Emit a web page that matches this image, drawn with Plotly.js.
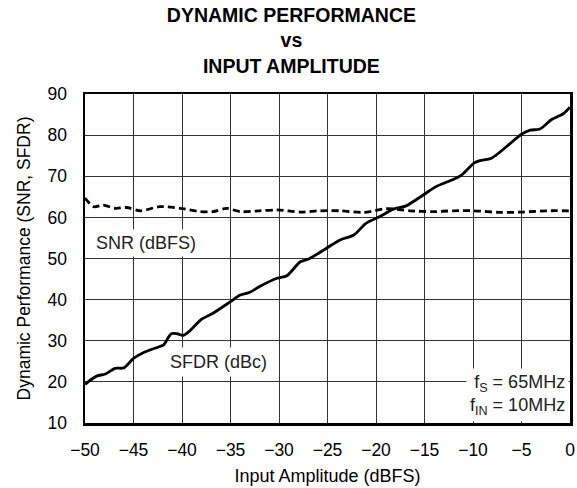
<!DOCTYPE html>
<html>
<head>
<meta charset="utf-8">
<script src="https://cdn.plot.ly/plotly-3.0.1.min.js"></script>
<style>html,body{margin:0;padding:0;background:#fff;}#chart{width:577px;height:488px;}</style>
</head>
<body>
<div id="chart"></div>
<script>
// SFDR (dBc) vs input amplitude
const sfdrX = [-50, -48.8, -47.9, -46.9, -46.0, -45.0, -44.0, -42.3, -41.9, -41.1, -40.5, -39.9, -39.3, -38.0, -36.8, -35.0, -34.0, -33.0, -32.0, -30.2, -29.2, -27.8, -27.0, -25.1, -23.7, -22.3, -21.0, -19.6, -18.2, -16.9, -15.1, -13.8, -11.3, -9.9, -9.3, -8.1, -6.5, -5.0, -4.1, -3.1, -1.9, -0.7, 0];
const sfdrY = [19.4, 21.4, 21.9, 23.3, 23.4, 25.7, 27.1, 28.6, 29.0, 31.7, 31.7, 31.3, 32.2, 35.2, 36.7, 39.5, 41.1, 41.8, 43.2, 45.2, 45.8, 49.2, 49.8, 52.5, 54.5, 55.7, 58.6, 60.2, 62.0, 62.8, 65.5, 67.5, 70.1, 73.2, 73.8, 74.4, 77.3, 80.2, 81.2, 81.5, 83.8, 85.2, 86.8];
// SNR (dBFS) vs input amplitude
const snrX = [-50, -49.1, -48.1, -46.9, -45.7, -44.3, -42.3, -40.2, -38.1, -36.8, -35.4, -34.0, -32.0, -30.2, -27.8, -25.8, -23.7, -21.3, -18.9, -16.5, -14.1, -12.0, -9.9, -7.2, -4.8, -2.4, 0];
const snrY = [64.7, 62.6, 63.0, 62.2, 62.4, 61.6, 62.6, 62.2, 61.4, 61.4, 62.2, 61.4, 61.6, 61.8, 61.3, 61.6, 61.6, 61.2, 62.1, 61.6, 61.4, 61.6, 61.6, 61.2, 61.3, 61.6, 61.6];
const xTicks = [-50, -45, -40, -35, -30, -25, -20, -15, -10, -5, 0];
const yTicks = [10, 20, 30, 40, 50, 60, 70, 80, 90];

const FONT = '"Liberation Sans", Arial, Helvetica, sans-serif';

const traces = [
  {x: sfdrX, y: sfdrY, mode: 'lines', line: {color: '#000', width: 2.8, shape: 'spline', smoothing: 0.8}, showlegend: false, hoverinfo: 'skip'},
  {x: snrX, y: snrY, mode: 'lines', line: {color: '#000', width: 2.8, dash: '7px,4px', shape: 'spline', smoothing: 0.8}, showlegend: false, hoverinfo: 'skip'}
];

const layout = {
  width: 577, height: 488,
  margin: {l: 85, r: 7, t: 94, b: 65},
  paper_bgcolor: '#fff', plot_bgcolor: '#fff',
  font: {family: FONT, size: 17, color: '#000'},
  title: {
    text: 'DYNAMIC PERFORMANCE<br>vs<br>INPUT AMPLITUDE',
    font: {family: FONT, size: 19.5, color: '#000', weight: 'bold'},
    x: 0.505, xref: 'container', xanchor: 'center',
    y: 0.955, yref: 'container', yanchor: 'middle'
  },
  xaxis: {
    range: [-50, 0], tickvals: xTicks, ticktext: xTicks.map(v => v < 0 ? '\u2212' + Math.abs(v) : String(v)),
    showgrid: true, gridcolor: '#333', gridwidth: 1,
    showline: true, mirror: true, linecolor: '#000', linewidth: 2.5,
    ticks: '', ticklabelstandoff: 9, zeroline: false,
    tickfont: {family: FONT, size: 17.5, color: '#000'},
    title: {text: 'Input Amplitude (dBFS)', font: {family: FONT, size: 18, color: '#000'}, standoff: 11}
  },
  yaxis: {
    range: [10, 90], tickvals: yTicks, ticktext: yTicks.map(String),
    showgrid: true, gridcolor: '#333', gridwidth: 1,
    showline: true, mirror: true, linecolor: '#000', linewidth: 2.5,
    ticks: '', ticklabelstandoff: 12, zeroline: false,
    tickfont: {family: FONT, size: 17.5, color: '#000'},
    title: {text: 'Dynamic Performance (SNR, SFDR)', font: {family: FONT, size: 17.5, color: '#000'}, standoff: 13}
  },
  annotations: [
    {x: -49.3, y: 53.8, xref: 'x', yref: 'y', text: 'SNR (dBFS)', showarrow: false, xanchor: 'left', yanchor: 'middle',
     bgcolor: '#fff', borderpad: 3, font: {family: FONT, size: 18, color: '#222'}},
    {x: -36.2, y: 24.9, xref: 'x', yref: 'y', text: 'SFDR (dBc)', showarrow: false, xanchor: 'center', yanchor: 'middle',
     bgcolor: '#fff', borderpad: 4, font: {family: FONT, size: 18, color: '#222'}},
    {x: 0, y: 10.3, xref: 'x', yref: 'y', text: 'f<sub>S</sub> = 65MHz<br>f<sub>IN</sub> = 10MHz', showarrow: false,
     xanchor: 'right', yanchor: 'bottom', align: 'right', bgcolor: '#fff', borderpad: 3, xshift: -1,
     font: {family: FONT, size: 18, color: '#222'}}
  ]
};

Plotly.newPlot('chart', traces, layout, {staticPlot: true, displayModeBar: false});
</script>
</body>
</html>
